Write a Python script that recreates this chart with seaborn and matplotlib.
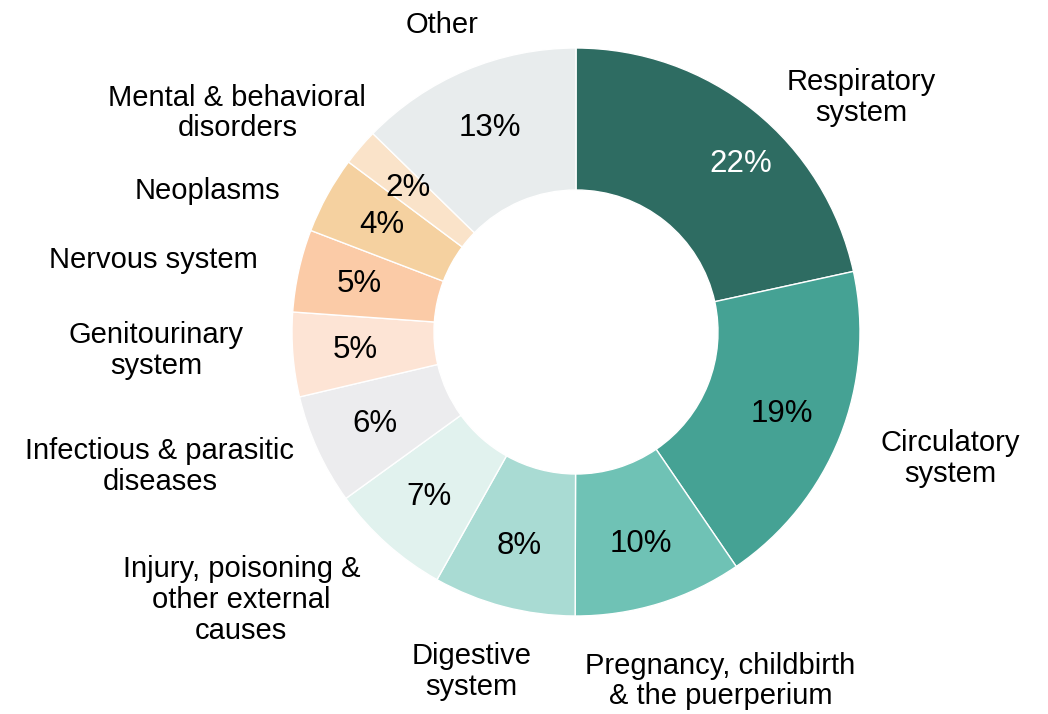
import numpy as np
import matplotlib.pyplot as plt
import seaborn as sns

# ── Data ────────────────────────────────────────────────────
categories = [
    'Respiratory\nsystem',
    'Circulatory\nsystem',
    'Pregnancy, childbirth\n& the puerperium',
    'Digestive\nsystem',
    'Injury, poisoning &\nother external\ncauses',
    'Infectious & parasitic\ndiseases',
    'Genitourinary\nsystem',
    'Nervous system',
    'Neoplasms',
    'Mental & behavioral\ndisorders',
    'Other',
]
shares = [21.6, 18.9, 9.6, 8.1, 6.9, 6.3, 4.8, 4.7, 4.4, 2.1, 12.7]

colors = ['#2e6c62', '#45a294', '#6fc2b5', '#a9dbd3', '#e1f2ee', '#ececee',
          '#fde4d5', '#fbcba7', '#f5d1a0', '#fae3c9', '#e8eced']

# label placement (angle in degrees, distance in radii)
label_angle = [39.4, -18.7, -67.5, -107.1, -141.3, -162.1, -177.5, 170.4, 159.1, 147.1, 113.5]
label_dist = [1.30, 1.39, 1.33, 1.25, 1.51, 1.54, 1.48, 1.51, 1.39, 1.42, 1.18]

# ── Plot ────────────────────────────────────────────────────
sns.set_theme(style='white')
plt.rcParams['font.family'] = ['Liberation Sans', 'DejaVu Sans']

fig = plt.figure(figsize=(10.48, 7.14), dpi=100)
ax = fig.add_axes([0, 0, 1, 1])

wedges, texts, autotexts = ax.pie(
    shares, colors=colors, startangle=90, counterclock=False,
    radius=1.0, autopct='%.0f%%', pctdistance=0.78,
    wedgeprops=dict(width=0.5, edgecolor='white', linewidth=1),
    textprops=dict(fontsize=22.5, color='black'))
autotexts[0].set_color('white')
autotexts[0].set_position((0.58, 0.59))

for lab, a, d in zip(categories, label_angle, label_dist):
    r = np.deg2rad(a)
    ax.text(d * np.cos(r), d * np.sin(r), lab, ha='center', va='center',
            fontsize=21, color='black', linespacing=1.12)

ax.set_aspect('auto')
ax.set_xlim(-576 / 284, 472 / 284)
ax.set_ylim(-382 / 284, 332 / 284)
ax.axis('off')

plt.savefig('out.png', dpi=100)
